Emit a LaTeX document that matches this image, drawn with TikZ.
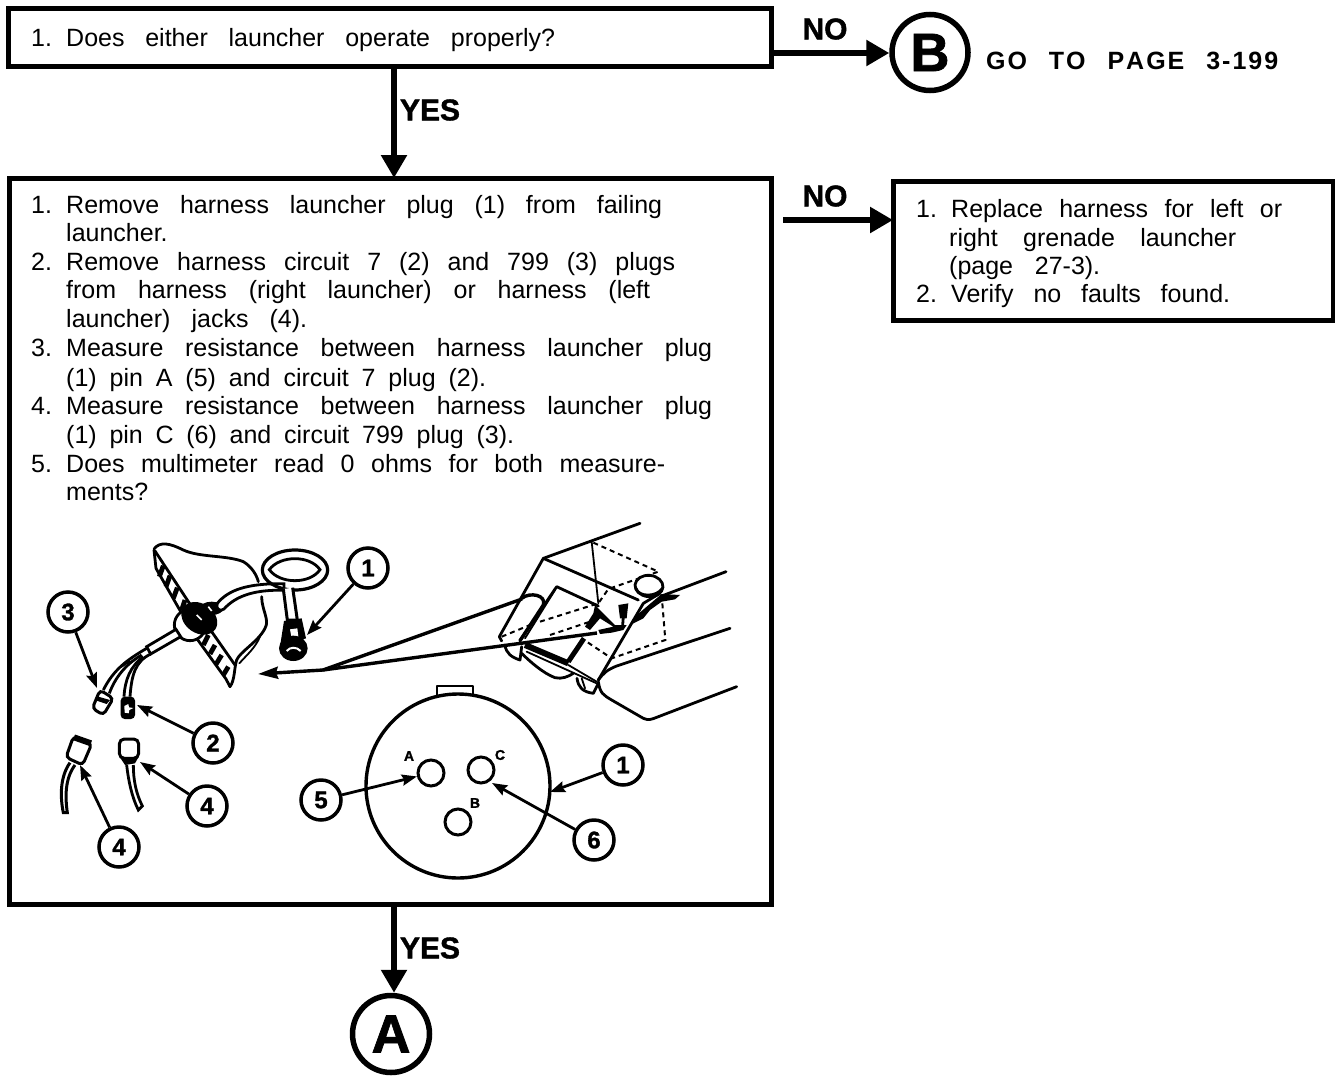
\documentclass[tikz,border=0pt]{standalone}
\usepackage{fontspec}
\setmainfont{Liberation Sans}
\newfontfamily\heavyfont[BoldFeatures={FakeBold=1.4}]{Liberation Sans}
\usepackage{xcolor}
\usetikzlibrary{arrows.meta,calc}
\tikzset{
  stepbox/.style={draw,line width=5pt,inner sep=0pt,outer sep=0pt},
  flowarrow/.style={line width=5.5pt,-{Triangle[length=23pt,width=25pt]}},
  leader/.style={line width=2.8pt,-{Stealth[length=15pt,width=11pt,inset=2pt]}},
  pagecircle/.style={draw,circle,line width=5.5pt,inner sep=0pt,font=\fontsize{54}{54}\selectfont\heavyfont\bfseries},
  callout/.style={draw,circle,line width=3.5pt,minimum size=40pt,inner sep=0pt,font=\fontsize{24}{24}\selectfont\heavyfont\bfseries},
  answer/.style={font=\fontsize{30}{30}\selectfont\heavyfont\bfseries,inner sep=0pt},
  linetext/.style={anchor=base west,inner sep=0pt,font=\fontsize{25}{25}\selectfont},
  pinletter/.style={inner sep=0pt,font=\fontsize{14}{14}\selectfont\heavyfont\bfseries},
  pinhole/.style={draw,circle,line width=3pt,minimum size=26pt,inner sep=0pt},
  part/.style={line width=2.8pt,line cap=round,line join=round},
  thin part/.style={line width=1.8pt,line cap=round,line join=round},
  hidden/.style={line width=2pt,dash pattern=on 5pt off 4pt}
}
\newcommand{\numtab}[1]{\makebox[35pt][l]{#1}}
\begin{document}
\begin{tikzpicture}[x=1pt,y=-1pt]
  \useasboundingbox (0,0) rectangle (1335,1076);

  % boxes and page circles
  \node[stepbox,minimum width=763pt,minimum height=58pt] (check) at (390,37) {};
  \node[stepbox,minimum width=762pt,minimum height=726pt] (steps) at (390,541) {};
  \node[stepbox,minimum width=440pt,minimum height=139pt] (fix) at (1113,251) {};
  \node[pagecircle,minimum size=76pt] (pageB) at (930,52.5) {B};
  \node[pagecircle,minimum size=77pt] (pageA) at (391,1034) {A};
  \coordinate (noB) at (772,53);
  \coordinate (noFix) at (783,220);
  \coordinate (trunk) at (394,0);

  % flow arrows
  \draw[flowarrow] (noB) -- (pageB.west |- noB);
  \draw[flowarrow] (noFix) -- (fix.west |- noFix);
  \draw[flowarrow] (trunk |- check.south) -- (trunk |- steps.north);
  \draw[flowarrow] (trunk |- steps.south) -- (trunk |- pageA.north);
  \node[answer] (noone) at (825,29) {NO};
  \node[answer] (notwo) at (825,196) {NO};
  \node[answer] (yesone) at (430,110) {YES};
  \node[answer] (yestwo) at (430,948) {YES};
  \node[anchor=base west,inner sep=0pt,font=\fontsize{25}{25}\selectfont\bfseries] (goto) at (986,69)
    {\makebox[292pt][s]{G\kern2ptO  \ T\kern2ptO  \ P\kern2ptA\kern2ptG\kern2ptE  \ 3\kern2pt-\kern2pt1\kern2pt9\kern2pt9}};

  % step text
  \foreach \nm/\xa/\ya/\len/\txt in {
    a/31/46/524/\numtab{1.}Does either launcher operate properly?,
    b/31/213/631/\numtab{1.}Remove harness launcher plug (1) from failing,
    c/66/241/84/launcher.,
    d/31/270/644/\numtab{2.}Remove harness circuit 7 (2) and 799 (3) plugs,
    e/66/298/584/from harness (right launcher) or harness (left,
    f/66/327/241/launcher) jacks (4).,
    g/31/356/681/\numtab{3.}Measure resistance between harness launcher plug,
    h/66/386/420/(1) pin A (5) and circuit 7 plug (2).,
    i/31/414/681/\numtab{4.}Measure resistance between harness launcher plug,
    j/66/443/448/(1) pin C (6) and circuit 799 plug (3).,
    k/31/472/634/\numtab{5.}Does multimeter read 0 ohms for both measure-,
    l/66/500/85/ments?,
    m/916/217/366/\numtab{1.}Replace harness for left or,
    n/949/246/287/right grenade launcher,
    o/949/274/151/(page 27-3).,
    p/916/302/314/\numtab{2.}Verify no faults found.}
    \node[linetext] (line\nm) at (\xa,\ya) {\makebox[\len pt][s]{\txt}};

  % connector face
  \draw[line width=3.4pt] (458,786) circle (92);
  \draw[part] (437,695) -- (437,686) -- (473,686) -- (473,695);
  \node[pinhole] (pinA) at (431,773) {};
  \node[pinhole] (pinC) at (481,770) {};
  \node[pinhole] (pinB) at (458,822) {};
  \node[pinletter] (letterA) at (409,756) {A};
  \node[pinletter] (letterC) at (500,755) {C};
  \node[pinletter] (letterB) at (475,803) {B};

  % harness panel, traced in 3x crop pixels
  \begin{scope}[shift={(140,535)},scale=1/3]
    \draw[part] (42,42) .. controls (60,18) and (90,25) .. (130,45) .. controls (180,68) and (260,60) .. (310,80) .. controls (335,95) and (350,120) .. (355,140);
    \draw[part] (45,48) -- (155,215);
    \draw[part] (42,45) -- (48,100) -- (125,235);
    \draw[part] (215,290) -- (285,390);
    \draw[part] (170,310) -- (258,432) -- (270,455);
    \foreach \sx/\sy/\ex/\ey in {70/92/58/125,90/122/78/155,112/158/100/190,135/195/125/225,205/300/190/330,225/330/210/357,245/360/228/388,265/395/250/420}
      \draw[line width=4.8pt] (\sx,\sy) -- (\ex,\ey);
    \draw[part] (365,185) .. controls (365,225) and (390,255) .. (375,280) .. controls (355,320) and (300,350) .. (290,375) .. controls (282,400) and (285,435) .. (270,455);
    \draw[thin part] (360,305) .. controls (345,340) and (320,360) .. (298,385);
    % grommet
    \draw[part,fill=white] (150,270) circle (47);
    \fill[rotate around={-35:(178,250)}] (178,250) ellipse (58 and 44);
    \fill (215,220) ellipse (35 and 20);
    \draw[white,line width=1.6pt] (170,240) -- (185,255);
    \draw[white,line width=1.6pt] (205,215) -- (215,228);
    % wire to loop
    \draw[line width=2.8pt,fill=white] (232,205) .. controls (265,165) and (320,145) .. (432,146) -- (432,166) .. controls (340,163) and (285,185) .. (252,222) .. controls (240,232) and (225,220) .. (232,205) -- cycle;
    \draw[line width=3.2pt] (465,105) ellipse (98 and 60);
    \draw[line width=2.8pt,fill=white] (388,104) .. controls (420,60) and (510,60) .. (540,104) .. controls (510,148) and (420,148) .. (388,104) -- cycle;
    \draw[line width=3pt,fill=white] (430,162) -- (442,255) -- (472,255) -- (458,158);
    \fill (432,258) -- (485,250) -- (498,310) -- (420,335) -- cycle;
    \fill[white] (450,283) -- (472,280) -- (475,305) -- (455,310) -- cycle;
    \fill (460,340) ellipse (43 and 38);
    \draw[white,line width=2pt] (440,348) .. controls (450,335) and (470,335) .. (482,348);
  \end{scope}

  % branch, plugs and jacks, traced in 3x crop pixels
  \begin{scope}[shift={(30,520)},scale=1/3]
    \draw[line width=2.8pt,fill=white] (438,328) -- (350,380) -- (362,402) -- (452,350) -- cycle;
    \draw[line width=2.8pt] (350,385) .. controls (290,420) and (250,450) .. (220,510);
    \draw[line width=2.8pt] (335,405) .. controls (300,425) and (260,460) .. (238,520);
    \draw[line width=2.8pt] (272,440) -- (300,422);
    \draw[line width=2.8pt] (362,402) .. controls (315,425) and (305,465) .. (300,530);
    \draw[line width=2.8pt] (340,410) .. controls (300,440) and (285,480) .. (282,530);
    % plug 3
    \draw[line width=3pt,fill=white,rounded corners=4pt] (210,510) -- (250,535) -- (220,585) -- (187,565) -- cycle;
    \fill (205,530) -- (240,540) -- (230,552) -- (200,542) -- cycle;
    % plug 2
    \fill[rounded corners=4pt] (272,530) rectangle (315,597);
    \fill[white] (283,558) -- (295,552) -- (297,562) -- (310,564) -- (298,570) -- (296,580) -- (284,578) -- cycle;
    % jack at left
    \draw[line width=3pt,fill=white,rounded corners=4pt] (130,650) -- (185,672) -- (158,735) -- (108,712) -- cycle;
    \draw[line width=6pt] (132,652) -- (183,670);
    \draw[line width=3pt] (120,728) .. controls (90,770) and (90,830) .. (100,878) -- (112,878) .. controls (105,830) and (105,775) .. (135,735);
    % jack at right
    \draw[line width=3pt,fill=white,rounded corners=5pt] (268,657) rectangle (326,715);
    \fill (270,712) -- (325,712) -- (315,730) -- (285,735) -- cycle;
    \draw[line width=2.8pt] (290,735) .. controls (295,780) and (305,830) .. (325,870) -- (337,858) .. controls (318,820) and (310,780) .. (310,735);
  \end{scope}

  % launcher, traced in 3x crop pixels
  \begin{scope}[shift={(430,510)},scale=1/3]
    \draw[part] (340,145) -- (630,40);
    \draw[part] (340,145) -- (625,270);
    \draw[part] (340,145) -- (208,380) -- (215,393);
    \draw[thin part] (485,95) -- (505,280);
    \draw[hidden] (490,98) -- (685,185) -- (535,237) -- (505,280);
    \draw[hidden] (697,280) -- (706,390) -- (545,445) -- (470,395);
    \draw[hidden] (215,380) -- (300,345);
    \draw[hidden] (330,335) -- (505,280);
    \draw[hidden] (360,375) -- (480,335);
    \draw[part] (505,288) -- (380,230) -- (270,392);
    \draw[thin part] (375,240) -- (285,385);
    \draw[line width=3.4pt,line cap=round] (275,265) .. controls (300,245) and (350,255) .. (340,285) -- (270,392);
    \draw[line width=5pt] (462,385) -- (415,455);
    \draw[line width=6pt] (285,405) -- (415,460);
    \draw[thin part] (415,465) -- (500,515);
    \draw[thin part] (290,425) -- (500,520);
    \draw[part] (225,405) .. controls (228,430) and (245,442) .. (270,450) -- (275,410);
    \draw[part] (275,430) .. controls (300,455) and (340,490) .. (375,503) .. controls (395,508) and (415,500) .. (430,490);
    \draw[part] (441,505) .. controls (445,530) and (455,545) .. (490,550) -- (505,520);
    \draw[thin part] (455,505) -- (465,535);
    \draw[part] (505,515) .. controls (510,550) and (520,555) .. (545,570) -- (640,625) .. controls (655,632) and (665,628) .. (680,622) -- (920,530);
    \draw[part] (505,510) .. controls (520,490) and (530,480) .. (560,468) -- (900,355);
    \draw[part] (505,510) -- (640,280) -- (690,250);
    \draw[part] (695,258) -- (888,185);
    \draw[part,fill=white,rotate around={-5:(657,228)}] (657,228) ellipse (42 and 32);
    \draw[part] (618,235) .. controls (625,262) and (680,262) .. (697,235);
    \fill (695,252) -- (750,255) -- (735,268) -- (695,275) -- (660,300) -- (640,325) -- (600,345) -- (615,320) -- (650,290) -- cycle;
    \fill (565,285) -- (595,280) -- (590,325) -- (570,325) -- cycle;
    \draw[part] (580,320) -- (578,345);
    \fill (495,285) -- (520,310) -- (555,345) -- (590,345) -- (580,360) -- (545,368) -- (510,372) -- (505,360) -- (550,350) -- (510,325) -- (480,360) -- (465,350) -- (490,310) -- cycle;
  \end{scope}

  % leader lines to the launcher
  \coordinate (hub) at (323,670);
  \coordinate (overview) at (258,674);
  \coordinate (launcherA) at (522,599);
  \coordinate (launcherB) at (597,633);
  \draw[line width=3.4pt,-{Stealth[length=20pt,width=12pt,inset=2pt]}] (hub) -- (overview);
  \draw[line width=3.4pt] (hub) -- (launcherA);
  \draw[line width=3.4pt] (hub) -- (launcherB);

  % callouts
  \node[callout] (partone) at (368,568) {1};
  \node[callout] (partthree) at (68,612) {3};
  \node[callout] (parttwo) at (213,743) {2};
  \node[callout] (partfour) at (207,806) {4};
  \node[callout] (partfourb) at (119,847) {4};
  \node[callout] (partfive) at (321,800) {5};
  \node[callout] (partoneb) at (623,765) {1};
  \node[callout] (partsix) at (594,840) {6};
  \coordinate (plugtip) at (307,635);
  \coordinate (threetip) at (97,688);
  \coordinate (twotip) at (137,705);
  \coordinate (fourtip) at (140,762);
  \coordinate (fourbtip) at (80,765);
  \coordinate (faceedge) at (550,792);
  \coordinate (pinCrim) at (492,783);
  \draw[leader] (partone) -- (plugtip);
  \draw[leader] (partthree) -- (threetip);
  \draw[leader] (parttwo) -- (twotip);
  \draw[leader] (partfour) -- (fourtip);
  \draw[leader] (partfourb) -- (fourbtip);
  \draw[leader] (partfive) -- (pinA);
  \draw[leader] (partoneb) -- (faceedge);
  \draw[leader] (partsix) -- (pinCrim);
\end{tikzpicture}
\end{document}
